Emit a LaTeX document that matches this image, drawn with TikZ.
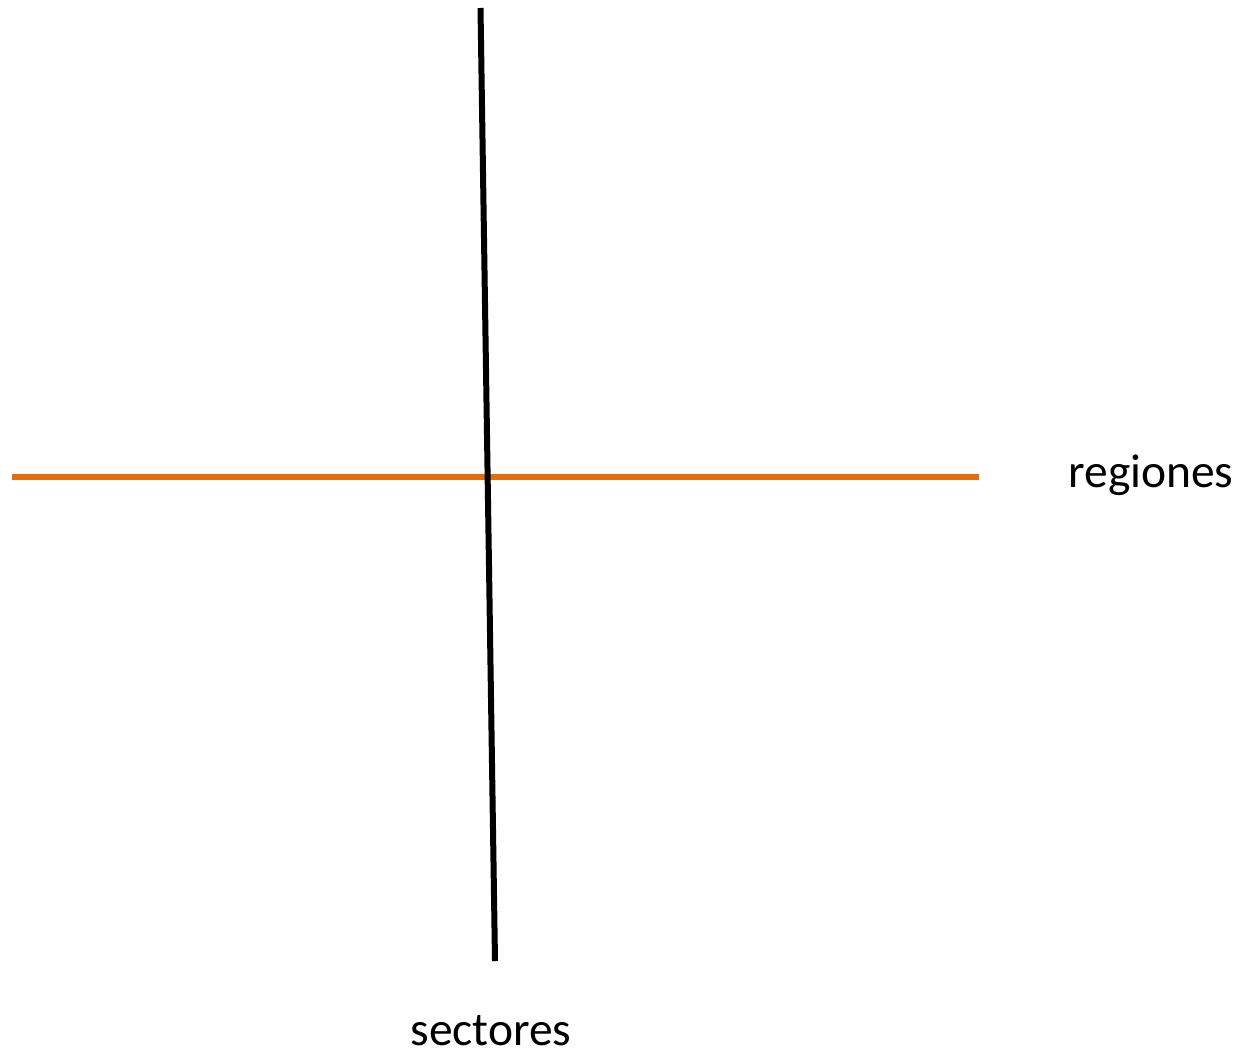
\documentclass[tikz,border=0pt]{standalone}
\usepackage{fontspec}
\setmainfont{Carlito}
\definecolor{axorange}{HTML}{E46C0A}
\begin{document}
\begin{tikzpicture}[x=1pt,y=-1pt,
  axisblack/.style={line width=6pt,black},
  axisorange/.style={line width=6pt,axorange},
  lbl/.style={font=\fontsize{47.5}{50}\selectfont,anchor=base,inner sep=0pt}]
\useasboundingbox (0,0) rectangle (1241,1051);
\coordinate (vtop) at (480.5,8);
\coordinate (vbot) at (495,961);
\coordinate (hleft) at (12,477);
\coordinate (hright) at (979,477);
\draw[axisorange] (hleft) -- (hright);
\draw[axisblack] (vtop) -- (vbot);
\node[lbl] (regiones) at (1151,487) {regiones};
\node[lbl,text depth=0pt] (sectores) at (491,1045) {sectores};
\end{tikzpicture}
\end{document}
